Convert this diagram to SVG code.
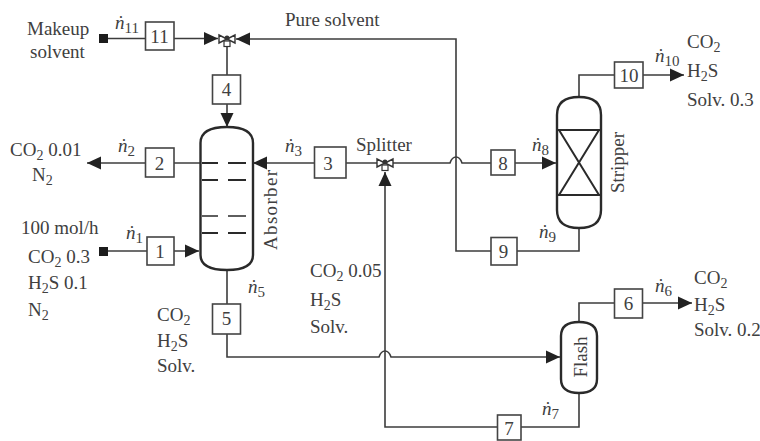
<svg xmlns="http://www.w3.org/2000/svg" width="760" height="441" viewBox="0 0 760 441">
<style>
text{font-family:"Liberation Serif","Times New Roman",serif;font-size:19px;fill:#404040}
.c{text-anchor:middle}
.s{font-size:14px}
.r{font-size:19px;font-style:italic}
.n{font-size:15px;font-style:normal}
.l{fill:none;stroke:#3c3c3c;stroke-width:1.6}
.b{fill:#fff;stroke:#444;stroke-width:1.6}
.v{fill:#fff;stroke:#2a2a2a;stroke-width:2.4}
.t{fill:none;stroke:#2a2a2a;stroke-width:2}
.f{fill:#1c1c1c}
</style>
<defs>
<marker id="a" markerUnits="userSpaceOnUse" markerWidth="15" markerHeight="14" refX="14" refY="7" orient="auto"><path d="M0,0.5L14,7L0,13.500z" fill="#222"/></marker>
<g id="valve"><path d="M-8,-4L0,0L-8,4zM8,-4L0,0L8,4z" fill="#fff" stroke="#333" stroke-width="1.400"/><circle cx="0" cy="-1" r="2.500" fill="#333"/><rect x="-3" y="2" width="6" height="5.500" fill="#fff" stroke="#333" stroke-width="1.200"/></g>
</defs>
<rect width="760" height="441" fill="#fff"/>
<g id="connectors">
<path class="l" marker-end="url(#a)" d="M104,38.500H218"/>
<path class="l" marker-end="url(#a)" d="M456,163V39H236"/>
<path class="l" d="M227,46V75"/>
<path class="l" marker-end="url(#a)" d="M227,104V127"/>
<path class="l" marker-end="url(#a)" d="M200,163H87"/>
<path class="l" marker-end="url(#a)" d="M377,163H253"/>
<path class="l" marker-end="url(#a)" d="M393,163H450Q452,157 456,157T462,163H556"/>
<path class="l" d="M456,163V251H579V228"/>
<path class="l" marker-end="url(#a)" d="M579,97V75H684"/>
<path class="l" marker-end="url(#a)" d="M104,251H199"/>
<path class="l" marker-end="url(#a)" d="M227,270V357H379Q381,351 385,351T391,357H560"/>
<path class="l" marker-end="url(#a)" d="M579,393V427H385V172"/>
<path class="l" marker-end="url(#a)" d="M579,322V303H692"/>
</g>
<g id="makeup-source"><rect class="f" x="99" y="34" width="9" height="9"/><text x="27" y="35">Makeup</text><text x="30" y="58">solvent</text></g>
<g id="feed-source"><rect class="f" x="99" y="247" width="9" height="9"/><text x="21" y="234">100 mol/h</text><text x="28" y="263">CO<tspan class="s" dy="4">2</tspan><tspan dy="-4"> 0.3</tspan></text><text x="28" y="289">H<tspan class="s" dy="4">2</tspan><tspan dy="-4">S 0.1</tspan></text><text x="28" y="316">N<tspan class="s" dy="4">2</tspan></text></g>
<g id="node-11"><rect class="b" x="145.500" y="22" width="28.500" height="28"/><text class="c" x="159.500" y="43">11</text><text class="r" x="115" y="29">ṅ<tspan class="n" dy="4">11</tspan></text></g>
<g id="node-4"><rect class="b" x="212.500" y="75" width="28" height="29"/><text class="c" x="226.500" y="96">4</text></g>
<g id="node-2"><rect class="b" x="145.500" y="148" width="28.500" height="29"/><text class="c" x="159.500" y="170">2</text><text class="r" x="118" y="152">ṅ<tspan class="n" dy="4">2</tspan></text></g>
<g id="node-3"><rect class="b" x="314.500" y="147" width="31.500" height="31"/><text class="c" x="328" y="170">3</text><text class="r" x="285" y="152">ṅ<tspan class="n" dy="4">3</tspan></text></g>
<g id="node-1"><rect class="b" x="147" y="237" width="27" height="28"/><text class="c" x="160" y="258">1</text><text class="r" x="126" y="239">ṅ<tspan class="n" dy="4">1</tspan></text></g>
<g id="node-5"><rect class="b" x="212.500" y="304" width="28" height="30"/><text class="c" x="226.500" y="325">5</text><text class="r" x="248" y="293">ṅ<tspan class="n" dy="4">5</tspan></text></g>
<g id="node-8"><rect class="b" x="491" y="150" width="24" height="25"/><text class="c" x="503" y="170">8</text><text class="r" x="532" y="151">ṅ<tspan class="n" dy="4">8</tspan></text></g>
<g id="node-9"><rect class="b" x="491" y="237.500" width="26" height="27.500"/><text class="c" x="503.500" y="258">9</text><text class="r" x="539" y="238">ṅ<tspan class="n" dy="4">9</tspan></text></g>
<g id="node-10"><rect class="b" x="614.500" y="62" width="28.500" height="26"/><text class="c" x="629" y="82">10</text><text class="r" x="655" y="62">ṅ<tspan class="n" dy="4">10</tspan></text></g>
<g id="node-6"><rect class="b" x="614.500" y="289" width="28" height="29"/><text class="c" x="628.500" y="310">6</text><text class="r" x="655" y="292">ṅ<tspan class="n" dy="4">6</tspan></text></g>
<g id="node-7"><rect class="b" x="497.500" y="415" width="23.500" height="25"/><text class="c" x="509" y="435">7</text><text class="r" x="542" y="415">ṅ<tspan class="n" dy="4">7</tspan></text></g>
<g id="mixer"><use href="#valve" transform="translate(227,39)"/></g>
<g id="splitter"><use href="#valve" transform="translate(385,163)"/><text x="356" y="151">Splitter</text></g>
<g id="absorber"><path class="v" d="M200.500,255V143Q200.500,127 227,127Q253,127 253,143V255Q253,270 227,270Q200.500,270 200.500,255z"/><path class="t" d="M202,163H218M228,163H246M202,180H218M228,180H246"/><path d="M202,216H218M228,216H246" fill="none" stroke="#2a2a2a" stroke-width="1.400"/><path class="t" d="M202,233H218M228,233H246"/><text class="c" transform="translate(277,210) rotate(-90)" textLength="80">Absorber</text></g>
<g id="stripper"><path class="v" d="M557,115Q557,97 579,97Q601,97 601,115V210Q601,228 579,228Q557,228 557,210z"/><path class="t" d="M557,130H601M557,195H601M559,130L599,195M599,130L559,195"/><text class="c" transform="translate(624,162.500) rotate(-90)">Stripper</text></g>
<g id="flash"><path class="v" d="M561,336Q561,322 579,322Q597,322 597,336V379Q597,393 579,393Q561,393 561,379z"/><text class="c" transform="translate(587,357) rotate(-90)">Flash</text></g>
<g id="stream-labels">
<text x="285" y="26">Pure solvent</text>
<text x="10" y="156">CO<tspan class="s" dy="4">2</tspan><tspan dy="-4"> 0.01</tspan></text>
<text x="32" y="181">N<tspan class="s" dy="4">2</tspan></text>
<text x="157" y="321">CO<tspan class="s" dy="4">2</tspan></text>
<text x="157" y="347">H<tspan class="s" dy="4">2</tspan><tspan dy="-4">S</tspan></text>
<text x="157" y="372">Solv.</text>
<text x="310" y="277">CO<tspan class="s" dy="4">2</tspan><tspan dy="-4"> 0.05</tspan></text>
<text x="310" y="306">H<tspan class="s" dy="4">2</tspan><tspan dy="-4">S</tspan></text>
<text x="310" y="333">Solv.</text>
<text x="687" y="48">CO<tspan class="s" dy="4">2</tspan></text>
<text x="687" y="77">H<tspan class="s" dy="4">2</tspan><tspan dy="-4">S</tspan></text>
<text x="687" y="106">Solv. 0.3</text>
<text x="694" y="284">CO<tspan class="s" dy="4">2</tspan></text>
<text x="694" y="311">H<tspan class="s" dy="4">2</tspan><tspan dy="-4">S</tspan></text>
<text x="694" y="336">Solv. 0.2</text>
</g>
</svg>
